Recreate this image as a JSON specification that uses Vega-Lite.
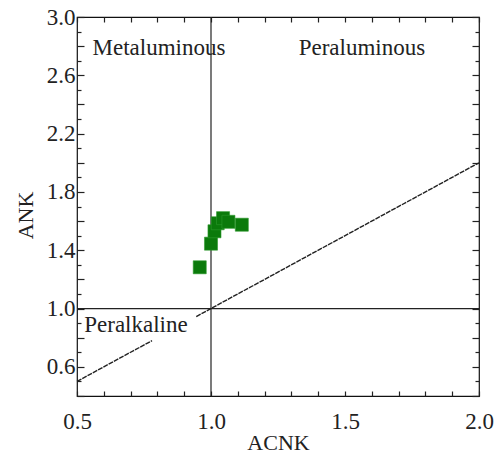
{
  "$schema": "https://vega.github.io/schema/vega-lite/v6.json",
  "width": 402,
  "height": 379,
  "autosize": "none",
  "padding": {"left": 77, "top": 17, "right": 17, "bottom": 58},
  "background": "white",
  "config": {
    "view": {"stroke": "#111", "strokeWidth": 1.2},
    "font": "Liberation Serif",
    "axis": {"grid": false, "domain": false, "zindex": 1, "labelFont": "Liberation Serif", "titleFont": "Liberation Serif", "labelColor": "#222", "titleColor": "#222", "labelFontSize": 23, "titleFontSize": 22, "titleFontWeight": "normal", "tickColor": "#222", "tickWidth": 1.2}
  },
  "datasets": {
    "pts": [
      {"ACNK": 0.958, "ANK": 1.283},
      {"ACNK": 1.0, "ANK": 1.445},
      {"ACNK": 1.013, "ANK": 1.53},
      {"ACNK": 1.025, "ANK": 1.585},
      {"ACNK": 1.045, "ANK": 1.62},
      {"ACNK": 1.065, "ANK": 1.595},
      {"ACNK": 1.115, "ANK": 1.575}
    ],
    "diag": [
      {"seg": "a", "ACNK": 0.5, "ANK": 0.5},
      {"seg": "a", "ACNK": 0.78, "ANK": 0.78},
      {"seg": "b", "ACNK": 0.945, "ANK": 0.945},
      {"seg": "b", "ACNK": 2.0, "ANK": 2.0}
    ],
    "labels": [
      {"ACNK": 0.806, "ANK": 2.79, "label": "Metaluminous"},
      {"ACNK": 1.563, "ANK": 2.79, "label": "Peraluminous"},
      {"ACNK": 0.72, "ANK": 0.89, "label": "Peralkaline"}
    ],
    "vline": [{"ACNK": 1.0}],
    "hline": [{"ANK": 1.0}]
  },
  "layer": [
    {
      "data": {"name": "diag"},
      "mark": {"type": "line", "color": "#222", "strokeWidth": 1.4, "strokeDash": [5, 1]},
      "encoding": {
        "x": {"field": "ACNK", "type": "quantitative", "scale": {"domain": [0.5, 2.0], "nice": false, "zero": false},
          "axis": {"orient": "bottom", "title": "ACNK", "titleBaseline": "alphabetic", "titleX": 201, "titleY": 53,
            "values": [0.5,0.6,0.7,0.8,0.9,1.0,1.1,1.2,1.3,1.4,1.5,1.6,1.7,1.8,1.9,2.0],
            "labelExpr": "indexof(['0.5','1.0','1.5','2.0'], format(datum.value,'.1f')) >= 0 ? format(datum.value,'.1f') : ''",
            "tickSize": -5, "labelPadding": 19, "labelFlush": false}},
        "y": {"field": "ANK", "type": "quantitative", "scale": {"domain": [0.4, 3.0], "nice": false, "zero": false},
          "axis": {"orient": "left", "title": "ANK", "titleBaseline": "alphabetic", "titleX": -45, "titleY": 198, "titleAngle": -90,
            "values": [0.4,0.5,0.6,0.7,0.8,0.9,1.0,1.1,1.2,1.3,1.4,1.5,1.6,1.7,1.8,1.9,2.0,2.1,2.2,2.3,2.4,2.5,2.6,2.7,2.8,2.9,3.0],
            "labelExpr": "indexof(['0.6','1.0','1.4','1.8','2.2','2.6','3.0'], format(datum.value,'.1f')) >= 0 ? format(datum.value,'.1f') : ''",
            "tickSize": {"condition": {"test": "indexof(['0.4','0.6','0.8','1.0','1.2','1.4','1.6','1.8','2.0','2.2','2.4','2.6','2.8','3.0'], format(datum.value,'.1f')) >= 0", "value": -7}, "value": -4},
            "labelPadding": 9, "labelFlush": false}},
        "detail": {"field": "seg"}
      }
    },
    {
      "data": {"name": "diag"},
      "mark": {"type": "line", "opacity": 0},
      "encoding": {
        "x": {"field": "ACNK", "type": "quantitative",
          "axis": {"orient": "top", "title": null, "labels": false, "tickSize": -5,
            "values": [0.5,0.6,0.7,0.8,0.9,1.0,1.1,1.2,1.3,1.4,1.5,1.6,1.7,1.8,1.9,2.0]}},
        "y": {"field": "ANK", "type": "quantitative",
          "axis": {"orient": "right", "title": null, "labels": false,
            "values": [0.4,0.5,0.6,0.7,0.8,0.9,1.0,1.1,1.2,1.3,1.4,1.5,1.6,1.7,1.8,1.9,2.0,2.1,2.2,2.3,2.4,2.5,2.6,2.7,2.8,2.9,3.0],
            "tickSize": {"condition": {"test": "indexof(['0.4','0.6','0.8','1.0','1.2','1.4','1.6','1.8','2.0','2.2','2.4','2.6','2.8','3.0'], format(datum.value,'.1f')) >= 0", "value": -7}, "value": -4}}},
        "detail": {"field": "seg"}
      }
    },
    {
      "data": {"name": "vline"},
      "mark": {"type": "rule", "color": "#222", "strokeWidth": 1.2},
      "encoding": {"x": {"field": "ACNK", "type": "quantitative", "axis": null}}
    },
    {
      "data": {"name": "hline"},
      "mark": {"type": "rule", "color": "#222", "strokeWidth": 1.2},
      "encoding": {"y": {"field": "ANK", "type": "quantitative", "axis": null}}
    },
    {
      "data": {"name": "labels"},
      "mark": {"type": "text", "font": "Liberation Serif", "fontSize": 23, "color": "#222", "align": "center", "baseline": "middle"},
      "encoding": {
        "x": {"field": "ACNK", "type": "quantitative", "axis": null},
        "y": {"field": "ANK", "type": "quantitative", "axis": null},
        "text": {"field": "label"}
      }
    },
    {
      "data": {"name": "pts"},
      "mark": {"type": "square", "color": "#0b7a0b", "opacity": 1, "size": 170, "stroke": "#2e9a2e", "strokeWidth": 0.6},
      "encoding": {
        "x": {"field": "ACNK", "type": "quantitative", "axis": null},
        "y": {"field": "ANK", "type": "quantitative", "axis": null}
      }
    }
  ],
  "resolve": {"axis": {"x": "independent", "y": "independent"}}
}
